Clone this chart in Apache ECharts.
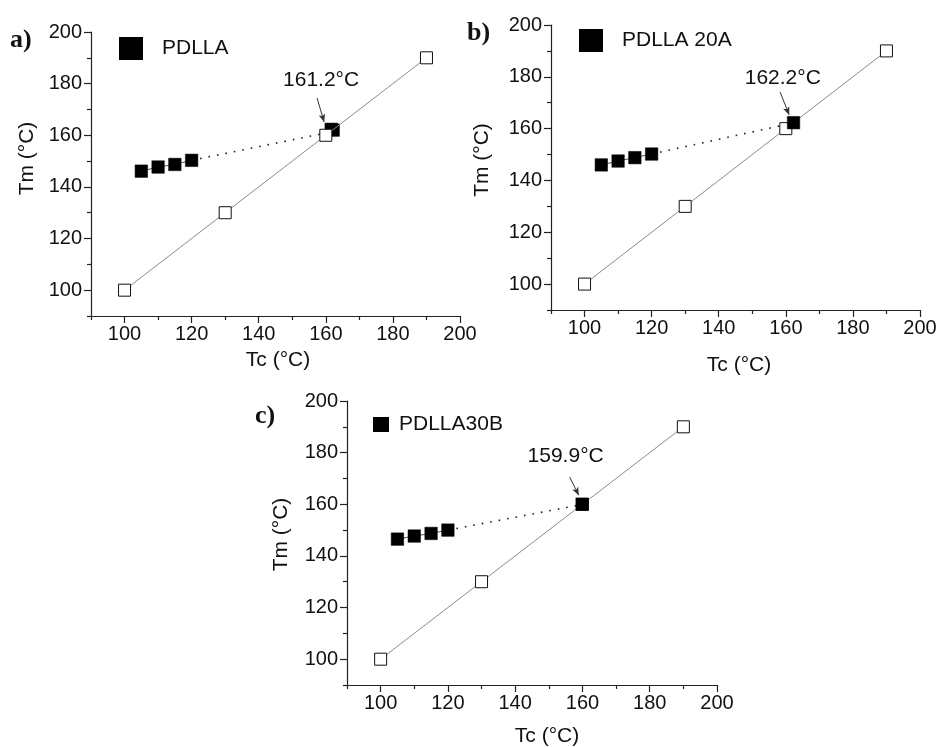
<!DOCTYPE html>
<html><head><meta charset="utf-8">
<script src="https://cdn.jsdelivr.net/npm/echarts@6/dist/echarts.min.js"></script>
<style>html,body{margin:0;padding:0;background:#fff}#c{width:938px;height:747px}</style>
</head><body><div id="c"></div>
<script>
// ---- data ----
const tcOpen = [100, 130, 160, 190];
const tmOpen = [100, 130, 160, 190];
const tcFilled = [105, 110, 115, 120];
const tmPDLLA = [146.1, 147.7, 148.7, 150.3];
const tmPDLLA20A = [146.0, 147.5, 148.8, 150.2];
const tmPDLLA30B = [146.5, 147.7, 148.7, 150.0];
const endPDLLA = [[161.6, 162.3], [162.2, 162.0]];
const endPDLLA20A = [[162.3, 162.3]];
const endPDLLA30B = [[159.9, 160.0]];
const crossValues = [161.2, 162.2, 159.9];
const seriesNames = ['PDLLA', 'PDLLA 20A', 'PDLLA30B'];
const panelTags = ['a)', 'b)', 'c)'];
const xMajor = [100, 120, 140, 160, 180, 200];
const xMinor = [90, 110, 130, 150, 170, 190];
const yMajor = [100, 120, 140, 160, 180, 200];
const yMinor = [90, 110, 130, 150, 170, 190];

const FONT = '"Liberation Sans", Arial, sans-serif';
const SERIF = '"Liberation Serif", "Times New Roman", serif';

const panels = [
  {tm: tmPDLLA, end: endPDLLA, grid: {left: 91, top: 32, width: 369, height: 284},
   tag: {left: 10, top: 27}, legend: {left: 119, top: 37, w: 22, h: 21, pad: 15},
   yGap: 53, yShift: 31, xGap: 34, xShift: 5,
   text: [158.6, 181.4], arrow: [[157.4, 174.4], [159.5, 165.1]], openOnTop: true},
  {tm: tmPDLLA20A, end: endPDLLA20A, grid: {left: 551, top: 25, width: 369, height: 285},
   tag: {left: 467, top: 20}, legend: {left: 579, top: 29, w: 22, h: 21, pad: 15},
   yGap: 58, yShift: 15, xGap: 45, xShift: 7,
   text: [159.1, 179.5], arrow: [[158.3, 174.1], [161.0, 165.3]], openOnTop: false},
  {tm: tmPDLLA30B, end: endPDLLA30B, grid: {left: 347, top: 401, width: 370, height: 284},
   tag: {left: 255, top: 403}, legend: {left: 373, top: 414, w: 14, h: 13, pad: 6},
   yGap: 55, yShift: 17, xGap: 41, xShift: 30,
   text: [155.0, 178.6], arrow: [[156.2, 170.5], [158.9, 163.5]], openOnTop: false}
];

const axisCol = '#222';
const grids = [], xAxes = [], yAxes = [], series = [], legends = [], titles = [];

panels.forEach((p, i) => {
  grids.push(Object.assign({outerBoundsMode: 'none', containLabel: false}, p.grid));
  titles.push({text: panelTags[i], left: p.tag.left, top: p.tag.top, padding: 0,
    textStyle: {fontFamily: SERIF, fontWeight: 'bold', fontSize: 26, color: '#111'}});
  legends.push({data: [seriesNames[i]], left: p.legend.left, top: p.legend.top, padding: 0,
    icon: 'rect', itemWidth: p.legend.w, itemHeight: p.legend.h, selectedMode: false,
    textStyle: {fontFamily: FONT, fontSize: 21, color: '#111', padding: [0, 0, 0, p.legend.pad]}});
  xAxes.push({
    type: 'value', gridIndex: i, min: 90, max: 200, position: 'bottom',
    name: 'Tc (°C)', nameLocation: 'middle', nameGap: p.xGap,
    nameTextStyle: {fontFamily: FONT, fontSize: 21, color: '#111', padding: [0, 0, 0, p.xShift]},
    axisLine: {show: true, onZero: false, lineStyle: {color: axisCol, width: 1.2}},
    axisTick: {show: true, customValues: xMajor, length: 7, lineStyle: {color: axisCol, width: 1.2}},
    axisLabel: {show: true, customValues: xMajor, margin: 8, fontFamily: FONT, fontSize: 20, color: '#111'},
    splitLine: {show: false}
  });
  xAxes.push({
    type: 'value', gridIndex: i, min: 90, max: 200, position: 'bottom',
    axisLine: {show: false, onZero: false},
    axisTick: {show: true, customValues: xMinor, length: 4, lineStyle: {color: axisCol, width: 1.2}},
    axisLabel: {show: false}, splitLine: {show: false}
  });
  yAxes.push({
    type: 'value', gridIndex: i, min: 90, max: 200, position: 'left',
    name: 'Tm (°C)', nameLocation: 'middle', nameGap: p.yGap, nameRotate: 90,
    nameTextStyle: {fontFamily: FONT, fontSize: 21, color: '#111', padding: [0, 0, 0, p.yShift]},
    axisLine: {show: true, onZero: false, lineStyle: {color: axisCol, width: 1.2}},
    axisTick: {show: true, customValues: yMajor, length: 7, lineStyle: {color: axisCol, width: 1.2}},
    axisLabel: {show: true, customValues: yMajor, margin: 9, fontFamily: FONT, fontSize: 20, color: '#111'},
    splitLine: {show: false}
  });
  yAxes.push({
    type: 'value', gridIndex: i, min: 90, max: 200, position: 'left',
    axisLine: {show: false, onZero: false},
    axisTick: {show: true, customValues: yMinor, length: 4, lineStyle: {color: axisCol, width: 1.2}},
    axisLabel: {show: false}, splitLine: {show: false}
  });

  const xi = 2 * i, yi = 2 * i;
  series.push({
    name: 'open-' + i, type: 'line', xAxisIndex: xi, yAxisIndex: yi,
    data: tcOpen.map((x, k) => [x, tmOpen[k]]),
    symbol: 'rect', symbolSize: 12, z: p.openOnTop ? 6 : 3,
    lineStyle: {color: '#8c8c8c', width: 1},
    itemStyle: {color: '#fff', borderColor: '#111', borderWidth: 1, opacity: 1}
  });
  series.push({
    name: seriesNames[i], type: 'line', xAxisIndex: xi, yAxisIndex: yi,
    data: tcFilled.map((x, k) => [x, p.tm[k]]),
    symbol: 'rect', symbolSize: 12.5, z: 4,
    lineStyle: {color: '#555', width: 1},
    itemStyle: {color: '#000', borderColor: '#000', borderWidth: 0.5, opacity: 1}
  });
  series.push({
    name: 'dot-' + i, type: 'line', xAxisIndex: xi, yAxisIndex: yi,
    data: [[tcFilled[3], p.tm[3]], [crossValues[i], crossValues[i]]],
    symbol: 'none', z: 2,
    lineStyle: {color: '#222', width: 1.6, type: [1.6, 7]},
    markLine: {
      silent: true, animation: false,
      lineStyle: {color: '#333', width: 1, type: 'solid'},
      label: {show: false},
      data: [[{coord: p.arrow[0], symbol: 'none'}, {coord: p.arrow[1], symbol: 'arrow', symbolSize: [5, 8]}]]
    },
    markPoint: {
      silent: true, animation: false,
      data: [{coord: p.text, symbol: 'circle', symbolSize: 1, itemStyle: {color: 'rgba(0,0,0,0)'},
        label: {show: true, position: 'inside', formatter: crossValues[i].toFixed(1) + '°C',
          fontFamily: FONT, fontSize: 21, color: '#111'}}]
    }
  });
  series.push({
    name: 'end-' + i, type: 'scatter', xAxisIndex: xi, yAxisIndex: yi,
    data: p.end, symbol: 'rect', symbolSize: 12.5, z: 5,
    itemStyle: {color: '#000', borderColor: '#000', borderWidth: 0.5, opacity: 1}
  });
});

const chart = echarts.init(document.getElementById('c'), null, {renderer: 'canvas'});
chart.setOption({
  animation: false,
  backgroundColor: '#fff',
  title: titles, legend: legends, grid: grids,
  xAxis: xAxes, yAxis: yAxes, series: series
});
</script>
</body></html>
